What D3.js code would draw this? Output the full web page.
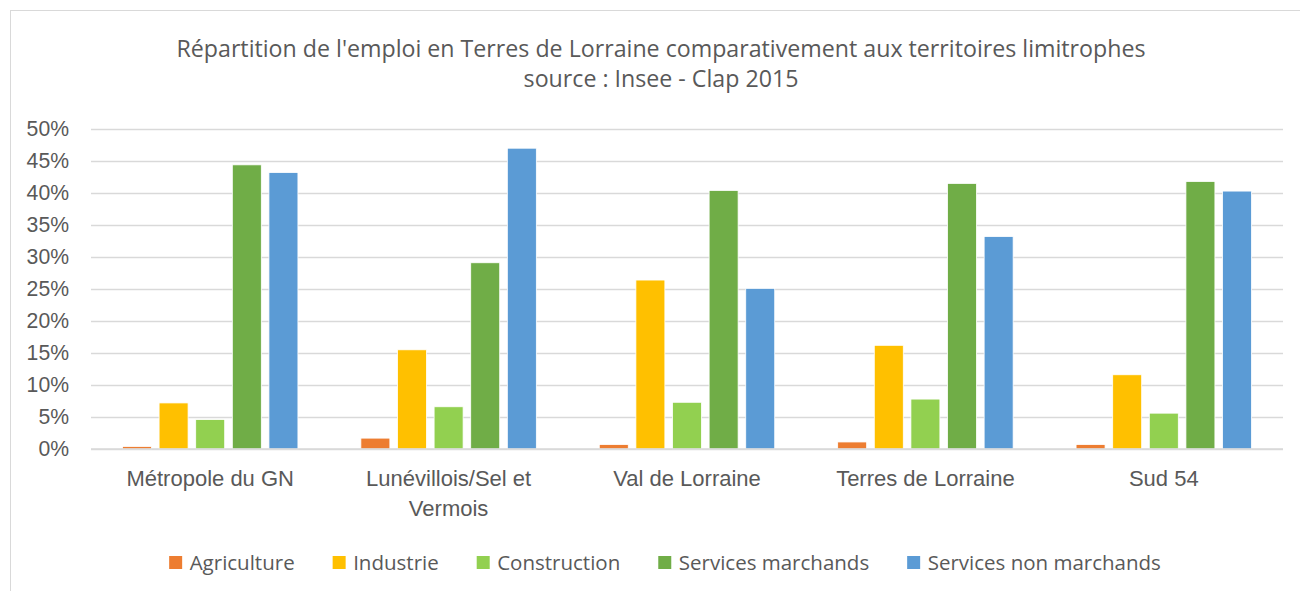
<!DOCTYPE html>
<html>
<head>
<meta charset="utf-8">
<script src="https://cdn.jsdelivr.net/npm/d3@7"></script>
<style>
  body { margin: 0; background: #fff; }
  svg { display: block; font-family: "Open Sans", "Liberation Sans", sans-serif; }
</style>
</head>
<body>
<div id="container"></div>
<script>
/* DATA */
const categories = ["Métropole du GN", "Lunévillois/Sel et Vermois", "Val de Lorraine", "Terres de Lorraine", "Sud 54"];
const series = ["Agriculture", "Industrie", "Construction", "Services marchands", "Services non marchands"];
const colors = ["#ED7D31", "#FFC000", "#92D050", "#70AD47", "#5B9BD5"];
// values in %, one array per series, in category order
const agriculture = [0.4, 1.7, 0.7, 1.1, 0.7];
const industrie = [7.2, 15.5, 26.4, 16.2, 11.6];
const construction = [4.6, 6.6, 7.3, 7.8, 5.6];
const servicesMarchands = [44.4, 29.1, 40.4, 41.5, 41.8];
const servicesNonMarchands = [43.2, 47.0, 25.1, 33.2, 40.3];
const yTicks = [0, 5, 10, 15, 20, 25, 30, 35, 40, 45, 50];
const titleLines = ["Répartition de l'emploi en Terres de Lorraine comparativement aux territoires limitrophes", "source : Insee - Clap 2015"];

const values = [agriculture, industrie, construction, servicesMarchands, servicesNonMarchands];

/* LAYOUT */
const width = 1300, height = 591;
const margin = {top: 129, right: 17, bottom: 142, left: 91};
const textColor = "#595959";
const gridColor = "#D9D9D9";

const svg = d3.select("#container")
  .append("svg")
  .attr("width", width)
  .attr("height", height);

// chart frame
svg.append("rect")
  .attr("x", 10.5).attr("y", 10.5)
  .attr("width", 1310).attr("height", 600)
  .attr("fill", "none")
  .attr("stroke", gridColor);

// title
svg.append("g")
  .selectAll("text")
  .data(titleLines)
  .join("text")
  .attr("x", 661)
  .attr("y", (d, i) => 57 + i * 30)
  .attr("text-anchor", "middle")
  .attr("fill", textColor)
  .attr("font-size", 23.2)
  .text(d => d);

const x0 = d3.scaleBand()
  .domain(categories)
  .range([margin.left, width - margin.right])
  .paddingInner(0.264)
  .paddingOuter(0.132);

const x1 = d3.scaleBand()
  .domain(series)
  .range([0, x0.bandwidth()])
  .paddingInner(0.208);

const y = d3.scaleLinear()
  .domain([0, 50])
  .range([height - margin.bottom, margin.top]);

// gridlines + y labels
const yAxis = svg.append("g")
  .attr("transform", `translate(${margin.left},0)`)
  .call(d3.axisLeft(y)
    .tickValues(yTicks)
    .tickSize(-(width - margin.left - margin.right))
    .tickPadding(22)
    .tickFormat(d => d + "%"));
yAxis.select(".domain").remove();
yAxis.selectAll(".tick line").attr("stroke", gridColor).attr("stroke-width", 1.3);
yAxis.selectAll(".tick text")
  .attr("fill", textColor)
  .attr("font-size", 21.2)
  .attr("font-family", "inherit");

// bars
const groups = svg.append("g")
  .selectAll("g")
  .data(categories)
  .join("g")
  .attr("transform", d => `translate(${x0(d)},0)`);

groups.selectAll("rect")
  .data((c, ci) => series.map((s, si) => ({series: s, color: colors[si], value: values[si][ci]})))
  .join("rect")
  .attr("x", d => x1(d.series))
  .attr("y", d => y(d.value))
  .attr("width", x1.bandwidth())
  .attr("height", d => y(0) - y(d.value))
  .attr("fill", d => d.color)
  .attr("stroke", "#fff")
  .attr("stroke-width", 0.8);

// category axis
const xAxis = svg.append("g")
  .attr("transform", `translate(0,${y(0)})`)
  .call(d3.axisBottom(x0).tickSize(0).tickPadding(21));
xAxis.select(".domain").attr("stroke", gridColor).attr("stroke-width", 1.3)
  .attr("d", `M${margin.left},0H${width - margin.right}`);
xAxis.selectAll(".tick text")
  .attr("fill", textColor)
  .attr("font-size", 22)
  .attr("font-family", "inherit")
  .each(function(d) {
    // wrap long labels like Excel does
    const t = d3.select(this);
    if (d === "Lunévillois/Sel et Vermois") {
      t.text(null);
      t.append("tspan").attr("x", 0).attr("dy", "0.71em").text("Lunévillois/Sel et");
      t.append("tspan").attr("x", 0).attr("dy", "1.36em").text("Vermois");
      t.attr("dy", null);
    }
  });

// legend
const legend = svg.append("g").attr("font-size", 20.5).attr("fill", textColor);
const items = legend.selectAll("g")
  .data(series)
  .join("g");
items.append("rect")
  .attr("width", 13).attr("height", 13)
  .attr("y", -7)
  .attr("fill", (d, i) => colors[i]);
items.append("text")
  .attr("x", 20.5)
  .attr("y", 0)
  .attr("dy", "0.35em")
  .text(d => d);
let lx = 0;
const gap = 38;
items.each(function() {
  const w = 20.5 + this.querySelector("text").getComputedTextLength();
  d3.select(this).attr("data-x", lx);
  lx += w + gap;
});
const totalW = lx - gap;
const startX = 665 - totalW / 2;
items.attr("transform", function() {
  return `translate(${startX + +this.getAttribute("data-x")},563)`;
});
</script>
</body>
</html>
